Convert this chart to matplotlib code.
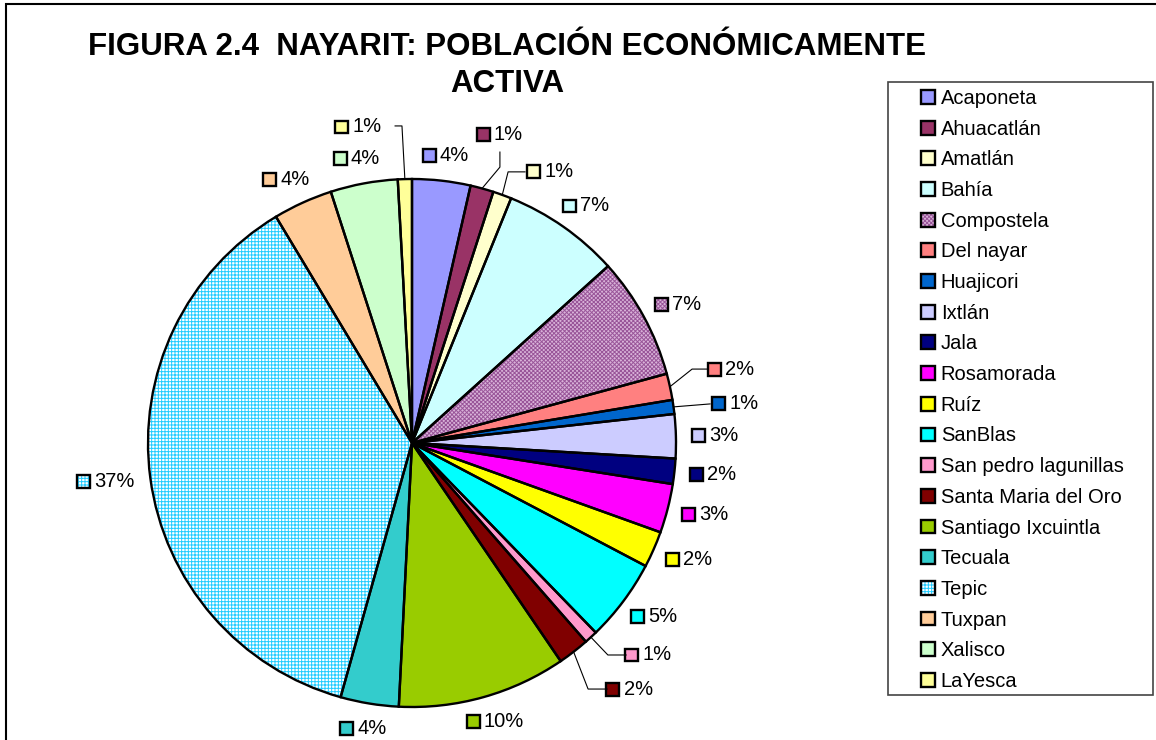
import numpy as np
import matplotlib
matplotlib.use("Agg")
import matplotlib.pyplot as plt
from matplotlib.patches import Wedge, Rectangle, Patch
from matplotlib.offsetbox import DrawingArea, TextArea, HPacker, AnnotationBbox

plt.rcParams['font.family'] = ['Liberation Sans', 'DejaVu Sans']
plt.rcParams['hatch.linewidth'] = 0.7

# Municipios y porcentaje de la PEA
municipios = ["Acaponeta", "Ahuacatlán", "Amatlán", "Bahía", "Compostela",
              "Del nayar", "Huajicori", "Ixtlán", "Jala", "Rosamorada", "Ruíz",
              "SanBlas", "San pedro lagunillas", "Santa Maria del Oro",
              "Santiago Ixcuintla", "Tecuala", "Tepic", "Tuxpan", "Xalisco",
              "LaYesca"]
porcentaje = [3.56, 1.42, 1.14, 7.19, 7.45, 1.61, 0.86, 2.69, 1.55, 3.00, 2.22,
              5.03, 0.81, 1.92, 10.31, 3.56, 37.00, 3.64, 4.11, 0.86]

colores = ["#9999FF", "#993366", "#FFFFCC", "#CCFFFF", "#D9B3D9", "#FF8080",
           "#0066CC", "#CCCCFF", "#000080", "#FF00FF", "#FFFF00", "#00FFFF",
           "#FF99CC", "#800000", "#99CC00", "#33CCCC", "#FFFFFF", "#FFCC99",
           "#CCFFCC", "#FFFF99"]
# tramas (patrones) de Excel
tramas = {"Compostela": ("xxxxxxxx", "#995599"), "Tepic": ("+++++", "#22CCFF")}

# posicion en pixeles del pie en la imagen original
CX, CY, R = 412, 443, 264
W, H = 1156, 740

# etiquetas con linea guia: centro de la caja y puntos de la linea (unidades de radio)
guias = {
    "LaYesca": ((-0.203, 1.197), [(-0.038, 1.201), (-0.064, 1.201)]),
    "Ahuacatlán": ((0.333, 1.170), [(0.333, 1.045), (0.333, 1.102)]),
    "Amatlán": ((0.523, 1.027), [(0.364, 1.027), (0.428, 1.027)]),
    "Del nayar": ((1.210, 0.280), [(1.061, 0.280), (1.121, 0.280)]),
    "Huajicori": ((1.225, 0.148), [(1.129, 0.148)]),
    "San pedro lagunillas": ((0.896, -0.803), [(0.742, -0.803), (0.811, -0.803)]),
    "Santa Maria del Oro": ((0.824, -0.932), [(0.667, -0.932), (0.739, -0.932)]),
}

fig = plt.figure(figsize=(W / 100, H / 100), dpi=100)
ax = fig.add_axes([0, 0, 1, 1])

wedges, _ = ax.pie(porcentaje, colors=colores, startangle=90, counterclock=False,
                   radius=1, center=(0, 0), wedgeprops=dict(linewidth=0),
                   frame=True)
ax.set_xlim(-CX / R, (W - CX) / R)
ax.set_ylim((CY - H) / R, CY / R)
ax.set_aspect('equal')
ax.axis('off')

for w, nombre in zip(wedges, municipios):
    if nombre in tramas:
        h, hc = tramas[nombre]
        ax.add_patch(Wedge(w.center, w.r, w.theta1, w.theta2, facecolor='none',
                           edgecolor=hc, linewidth=0, hatch=h, zorder=2))
    ax.add_patch(Wedge(w.center, w.r, w.theta1, w.theta2, facecolor='none',
                       edgecolor='black', linewidth=1.7, zorder=3))


def cuadrito(nombre, color, size=9.3):
    da = DrawingArea(size, size, 0, 0)
    da.add_artist(Rectangle((0, 0), size, size, facecolor=color, linewidth=0))
    if nombre in tramas:
        h, hc = tramas[nombre]
        da.add_artist(Rectangle((0, 0), size, size, facecolor='none', edgecolor=hc,
                                linewidth=0, hatch=h))
    da.add_artist(Rectangle((0, 0), size, size, facecolor='none',
                            edgecolor='black', linewidth=1.7))
    return da


total = sum(porcentaje)
for w, nombre, color, v in zip(wedges, municipios, colores, porcentaje):
    texto = "%d%%" % round(100 * v / total)
    caja = HPacker(children=[cuadrito(nombre, color),
                             TextArea(texto, textprops=dict(fontsize=14.5))],
                   align='center', pad=0, sep=3)
    mid = np.deg2rad((w.theta1 + w.theta2) / 2)
    borde = (np.cos(mid), np.sin(mid))
    if nombre in guias:
        centro, pts = guias[nombre]
        xs = [borde[0]] + [p[0] for p in pts]
        ys = [borde[1]] + [p[1] for p in pts]
        ax.plot(xs, ys, color='black', linewidth=0.8, zorder=4)
        ab = AnnotationBbox(caja, centro, box_alignment=(0.5, 0.5),
                            frameon=False, pad=0)
    else:
        r0 = 1.06
        ancla = (r0 * np.cos(mid), r0 * np.sin(mid))
        ab = AnnotationBbox(caja, ancla,
                            box_alignment=(0.5 - 0.5 * np.cos(mid), 0.5 - 0.5 * np.sin(mid)),
                            frameon=False, pad=0)
    ax.add_artist(ab)

# titulo
fig.text(507 / W, 1 - 47 / H, "FIGURA 2.4  NAYARIT: POBLACIÓN ECONÓMICAMENTE",
         ha='center', va='center', fontsize=22.5, fontweight='bold')
fig.text(507 / W, 1 - 84 / H, "ACTIVA", ha='center', va='center',
         fontsize=22.5, fontweight='bold')

# leyenda
handles = []
for nombre, color in zip(municipios, colores):
    capas = [Patch(facecolor=color, linewidth=0)]
    if nombre in tramas:
        h, hc = tramas[nombre]
        capas.append(Patch(facecolor='none', edgecolor=hc, linewidth=0, hatch=h))
    capas.append(Patch(facecolor='none', edgecolor='black', linewidth=1.7))
    handles.append(tuple(capas))

fig.patches.append(Rectangle((888 / W, 1 - 695 / H), (1153 - 888) / W, (695 - 82) / H,
                             transform=fig.transFigure, facecolor='white',
                             edgecolor='#444444', linewidth=1.2, zorder=0))
fig.legend(handles, municipios, loc='upper left', bbox_to_anchor=(921 / W, 1 - 89 / H),
           frameon=False, fontsize=14.5, borderpad=0, borderaxespad=0,
           handlelength=0.68, handleheight=0.68, handletextpad=0.3,
           labelspacing=0.58)

# marco de la figura
fig.patches.append(Rectangle((6 / W, -0.1), 1.2, 1 - 4 / H + 0.1,
                             transform=fig.transFigure, facecolor='none',
                             edgecolor='black', linewidth=1.5, zorder=-1))

fig.savefig("out.png", dpi=100)
